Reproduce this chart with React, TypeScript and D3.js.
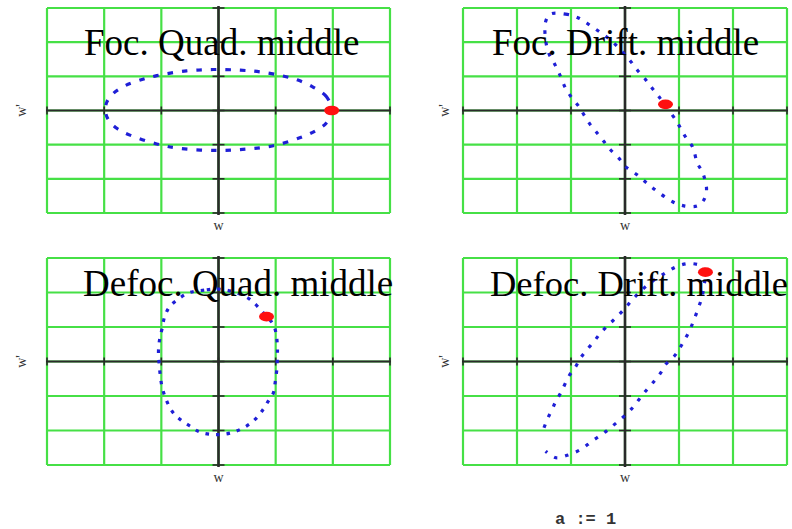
import React from "react";
import * as d3 from "d3";

// Phase-space trajectories (w, w') sampled at four lattice positions
const focQuadTrace: [number, number][] = [
  [1.98, 0.0], [1.89, 0.4], [1.66, 0.68], [1.39, 0.89], [1.13, 1.01], [0.73, 1.13],
  [0.38, 1.18], [-0.09, 1.2], [-0.56, 1.16], [-1.08, 1.02], [-1.39, 0.88], [-1.64, 0.72],
  [-1.84, 0.5], [-1.95, 0.26], [-1.98, 0.01], [-1.93, -0.26], [-1.78, -0.52], [-1.55, -0.72],
  [-1.08, -0.98], [-0.67, -1.11], [-0.03, -1.17], [0.49, -1.13], [0.96, -1.03], [1.42, -0.8],
  [1.69, -0.6], [1.89, -0.36],
];
const focDriftTrace: [number, number][] = [
  [-1.38, 2.82], [-1.1, 2.82], [-0.85, 2.7], [-0.61, 2.45], [-0.39, 2.21], [-0.23, 2.01],
  [-0.05, 1.72], [0.11, 1.43], [0.23, 1.18], [0.38, 0.91], [0.48, 0.7], [0.63, 0.4],
  [0.94, -0.28], [1.03, -0.52], [1.12, -0.77], [1.25, -1.06], [1.34, -1.54], [1.43, -1.79],
  [1.48, -2.03], [1.51, -2.32], [1.46, -2.62], [1.34, -2.79], [1.09, -2.79], [0.88, -2.67],
  [0.6, -2.37], [0.41, -2.13], [0.23, -1.89], [0.01, -1.64], [-0.11, -1.4], [-0.27, -1.15],
  [-0.39, -0.91], [-0.51, -0.67], [-0.64, -0.42], [-0.76, -0.13], [-0.85, 0.11], [-0.98, 0.36],
  [-1.1, 0.65], [-1.22, 1.09], [-1.31, 1.38], [-1.41, 1.67], [-1.47, 2.06], [-1.47, 2.6],
];
const defocQuadTrace: [number, number][] = [
  [0.0, 2.1], [-0.25, 2.07], [-0.5, 2.0], [-0.67, 1.85], [-0.85, 1.6], [-0.94, 1.31],
  [-0.99, 0.93], [-1.03, 0.64], [-1.05, 0.3], [-1.04, -0.04], [-1.02, -0.38], [-0.99, -0.72],
  [-0.94, -1.0], [-0.88, -1.24], [-0.79, -1.49], [-0.67, -1.68], [-0.5, -1.87], [-0.32, -2.05],
  [-0.03, -2.12], [0.26, -2.05], [0.49, -1.87], [0.64, -1.68], [0.78, -1.39], [0.87, -1.15],
  [0.96, -0.91], [0.99, -0.62], [1.02, -0.23], [1.03, 0.15], [1.03, 0.44], [1.01, 0.78],
  [0.96, 1.07], [0.84, 1.31], [0.73, 1.51], [0.55, 1.8], [0.3, 2.0],
];
const defocDriftTrace: [number, number][] = [
  [-1.5, -1.92], [-1.44, -1.68], [-1.35, -1.39], [-1.28, -1.15], [-1.19, -0.91], [-1.04, -0.43],
  [-0.91, -0.14], [-0.82, 0.11], [-0.7, 0.35], [-0.57, 0.59], [-0.45, 0.83], [-0.3, 1.07],
  [-0.14, 1.31], [0.01, 1.56], [0.14, 1.8], [0.29, 2.04], [0.51, 2.33], [0.75, 2.57],
  [0.97, 2.76], [1.19, 2.84], [1.42, 2.76], [1.49, 2.55], [1.46, 2.18], [1.43, 1.89],
  [1.37, 1.6], [1.28, 1.22], [1.19, 0.88], [1.09, 0.59], [1.0, 0.35], [0.91, 0.15],
  [0.75, -0.09], [0.66, -0.33], [0.54, -0.57], [0.38, -0.86], [0.26, -1.1], [0.14, -1.34],
  [-0.02, -1.59], [-0.2, -1.83], [-0.39, -2.07], [-0.61, -2.31], [-0.82, -2.55], [-1.07, -2.72],
  [-1.28, -2.79], [-1.47, -2.6],
];

// Starting particle for each plot
const focQuadStart: [number, number] = [1.98, 0.0];
const focDriftStart: [number, number] = [0.75, 0.18];
const defocQuadStart: [number, number] = [0.84, 1.3];
const defocDriftStart: [number, number] = [1.49, 2.59];

const titles = ["Foc. Quad. middle", "Foc. Drift. middle", "Defoc. Quad. middle", "Defoc. Drift. middle"];
const gridTicks = [-3, -2, -1, 0, 1, 2, 3];
const axisDomain: [number, number] = [-3, 3];
const xLabel = "w";
const yLabel = "w'";
const footnote = "a := 1";

const W = 792;
const H = 529;

type Frame = {
  left: number; right: number; top: number; bottom: number;
  titleX: number; titleY: number; titleSize: number; yLabelX: number;
  closed: boolean; dash: string;
};

const frames: Frame[] = [
  { left: 47, right: 390, top: 8, bottom: 213, titleX: 84, titleY: 55, titleSize: 37, yLabelX: 21, closed: true, dash: "5.5 9" },
  { left: 463, right: 787, top: 8, bottom: 213, titleX: 492, titleY: 55, titleSize: 37, yLabelX: 444, closed: true, dash: "3.5 8" },
  { left: 47, right: 390, top: 258, bottom: 465, titleX: 83, titleY: 296, titleSize: 37, yLabelX: 21, closed: true, dash: "3.5 7" },
  { left: 463, right: 787, top: 258, bottom: 465, titleX: 490, titleY: 296, titleSize: 36.5, yLabelX: 444, closed: false, dash: "3.5 8" },
];

const traces = [focQuadTrace, focDriftTrace, defocQuadTrace, defocDriftTrace];
const starts = [focQuadStart, focDriftStart, defocQuadStart, defocDriftStart];

const GRID = "#46e046";
const AXIS = "#2a2a2a";
const TRACE = "#1f1fd6";
const MARK = "#ff1010";

function Panel({ f, trace, start, title }: { f: Frame; trace: [number, number][]; start: [number, number]; title: string }) {
  const x = d3.scaleLinear().domain(axisDomain).range([f.left, f.right]);
  const y = d3.scaleLinear().domain(axisDomain).range([f.bottom, f.top]);
  const line = d3
    .line<[number, number]>()
    .x((d) => x(d[0]))
    .y((d) => y(d[1]))
    .curve(f.closed ? d3.curveCatmullRomClosed : d3.curveCatmullRom);
  const x0 = x(0);
  const y0 = y(0);
  return (
    <g>
      {/* grid */}
      {gridTicks.map((t) => (
        <line key={"v" + t} x1={x(t)} x2={x(t)} y1={f.top} y2={f.bottom} stroke={GRID} strokeWidth={2.2} />
      ))}
      {gridTicks.map((t) => (
        <line key={"h" + t} x1={f.left} x2={f.right} y1={y(t)} y2={y(t)} stroke={GRID} strokeWidth={2.2} />
      ))}
      {/* axes through the origin */}
      <line x1={f.left - 1} x2={f.right + 1} y1={y0} y2={y0} stroke={AXIS} strokeWidth={1.8} />
      <line x1={x0} x2={x0} y1={f.top - 2} y2={f.bottom + 2} stroke={AXIS} strokeWidth={2.6} />
      {gridTicks.map((t) => (
        <line key={"xt" + t} x1={x(t)} x2={x(t)} y1={y0 - 4} y2={y0 + 4} stroke={AXIS} strokeWidth={1.6} />
      ))}
      {gridTicks.map((t) => (
        <line key={"yt" + t} x1={x0 - 6} x2={x0 + 6} y1={y(t)} y2={y(t)} stroke={AXIS} strokeWidth={1.6} />
      ))}
      {/* trajectory */}
      <path d={line(trace) ?? ""} fill="none" stroke={TRACE} strokeWidth={3.2} strokeDasharray={f.dash} />
      <ellipse cx={x(start[0])} cy={y(start[1])} rx={7.5} ry={4.8} fill={MARK} />
      {/* labels */}
      <text
        x={x0}
        y={f.bottom + 17}
        textAnchor="middle"
        fontFamily="Liberation Serif"
        fontSize={14}
        fill="#333"
      >
        {xLabel}
      </text>
      <text
        transform={`translate(${f.yLabelX},${y0}) rotate(-90)`}
        textAnchor="middle"
        dy="0.35em"
        fontFamily="Liberation Serif"
        fontSize={14}
        fill="#333"
      >
        {yLabel}
      </text>
      <text x={f.titleX} y={f.titleY} fontFamily="Liberation Serif" fontSize={f.titleSize} fill="#000">
        {title}
      </text>
    </g>
  );
}

export default function App() {
  return (
    <svg
      width={W}
      height={H}
      viewBox={`0 0 ${W} ${H}`}
      style={{ position: "absolute", left: 0, top: 0, background: "#fff" }}
    >
      <rect width={W} height={H} fill="#fff" />
      {frames.map((f, i) => (
        <Panel key={i} f={f} trace={traces[i]} start={starts[i]} title={titles[i]} />
      ))}
      <text x={555} y={524} fontFamily="Liberation Mono" fontSize={17} fontWeight="bold" fill="#333">
        {footnote}
      </text>
    </svg>
  );
}
